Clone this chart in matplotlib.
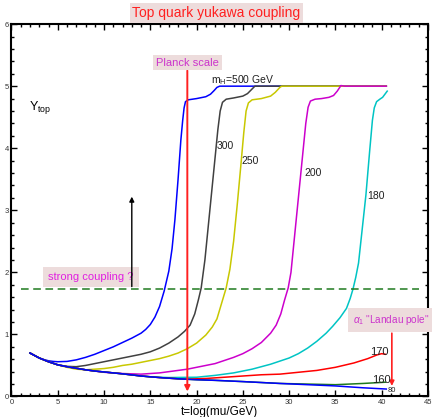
import numpy as np
import matplotlib
matplotlib.use("Agg")
import matplotlib.pyplot as plt
from matplotlib.ticker import MultipleLocator

plt.rcParams['font.family'] = ['Liberation Sans', 'DejaVu Sans']
plt.rcParams['mathtext.fontset'] = 'custom'
plt.rcParams['mathtext.rm'] = 'Liberation Sans'
plt.rcParams['mathtext.it'] = 'Liberation Sans:italic'

# common low-scale part of the light Higgs curves (t, Y_top)
t_base = [2, 2.5, 3, 3.5, 4, 5, 6, 7, 8, 9, 10, 12, 14, 16, 18, 20, 22, 25, 27, 29]
y_base = [0.70, 0.66, 0.62, 0.59, 0.56, 0.51, 0.48, 0.455, 0.43, 0.41, 0.395, 0.365,
          0.33, 0.305, 0.285, 0.27, 0.26, 0.24, 0.225, 0.21]

# m_H = 500 GeV
t_500 = [2, 2.5, 3, 3.5, 4, 4.5, 5, 6, 7, 8, 9, 10, 11, 12, 13, 14, 14.5, 15, 15.5,
         16, 16.5, 17.0, 17.35, 17.66, 18.0, 18.3, 18.5, 18.65, 18.8, 19.1, 20.0,
         21.0, 21.5, 21.9, 22.2, 22.5, 30, 40.5]
y_500 = [0.70, 0.66, 0.62, 0.595, 0.575, 0.565, 0.56, 0.565, 0.59, 0.63, 0.68, 0.74,
         0.80, 0.87, 0.94, 1.02, 1.08, 1.16, 1.28, 1.45, 1.70, 2.02, 2.38, 2.85, 3.50,
         4.13, 4.45, 4.65, 4.75, 4.78, 4.80, 4.83, 4.87, 4.93, 4.98, 5.0, 5.0, 5.0]
# m_H = 300 GeV
t_300 = [2, 2.5, 3, 3.5, 4, 5, 6, 7, 8, 9, 10, 11, 12, 13, 14, 15, 16, 17, 18, 18.7,
         19.3, 19.8, 20.2, 20.5, 20.9, 21.2, 21.6, 22.0, 22.3, 22.55, 22.8, 23.2, 24.0,
         25.0, 25.5, 25.9, 26.3, 40.5]
y_300 = [0.70, 0.66, 0.62, 0.59, 0.56, 0.51, 0.485, 0.48, 0.50, 0.53, 0.56, 0.59,
         0.62, 0.65, 0.68, 0.72, 0.78, 0.86, 0.96, 1.05, 1.15, 1.33, 1.56, 1.75, 2.20,
         2.65, 3.25, 3.85, 4.30, 4.60, 4.74, 4.79, 4.81, 4.84, 4.88, 4.94, 5.0, 5.0]
# m_H = 250 GeV
t_250 = [2, 2.5, 3, 3.5, 4, 5, 6, 7, 8, 9, 10, 11, 12, 13, 14, 15, 16, 17, 18, 19,
         20, 21, 21.7, 22.2, 22.7, 23.2, 23.6, 24.0, 24.4, 24.8, 25.1, 25.35, 25.6,
         26.0, 27.0, 28.0, 28.5, 29.0, 29.2, 40.5]
y_250 = [0.70, 0.66, 0.62, 0.59, 0.56, 0.51, 0.47, 0.44, 0.43, 0.44, 0.45, 0.47,
         0.50, 0.52, 0.55, 0.58, 0.61, 0.65, 0.70, 0.77, 0.86, 0.99, 1.12, 1.25, 1.50,
         1.75, 2.05, 2.50, 3.10, 3.75, 4.25, 4.60, 4.73, 4.78, 4.80, 4.84, 4.90, 4.98,
         5.0, 5.0]
# m_H = 200 GeV
t_200 = [2, 2.5, 3, 3.5, 4, 5, 6, 7, 8, 9, 10, 11, 12, 13, 14, 15, 16, 17, 18, 19,
         20, 21, 22, 23, 24, 25, 26, 27, 28, 28.6, 29.1, 29.5, 29.9, 30.2, 30.6, 31.0,
         31.4, 31.8, 32.05, 32.3, 32.8, 33.5, 34.3, 34.8, 35.2, 35.6, 36.0, 40.5]
y_200 = [0.70, 0.66, 0.62, 0.59, 0.56, 0.51, 0.48, 0.455, 0.43, 0.41, 0.39, 0.38,
         0.37, 0.365, 0.36, 0.37, 0.38, 0.40, 0.42, 0.44, 0.47, 0.50, 0.53, 0.58,
         0.63, 0.69, 0.77, 0.87, 1.02, 1.15, 1.33, 1.55, 1.75, 2.00, 2.60, 3.20, 3.80,
         4.40, 4.66, 4.76, 4.79, 4.80, 4.82, 4.85, 4.92, 5.01, 5.0, 5.0]
# m_H = 180 GeV
t_180 = [2, 2.5, 3, 3.5, 4, 5, 6, 7, 8, 9, 10, 12, 15, 17, 20, 22, 24, 26, 28, 30,
         31, 32, 33, 34, 34.7, 35.5, 36.2, 36.6, 36.9, 37.2, 37.5, 37.9, 38.3, 38.7,
         39.0, 39.2, 39.45, 39.8, 40.1, 40.35, 40.6]
y_180 = [0.70, 0.66, 0.62, 0.59, 0.56, 0.51, 0.48, 0.455, 0.43, 0.41, 0.395, 0.365,
         0.315, 0.305, 0.31, 0.34, 0.38, 0.44, 0.52, 0.62, 0.69, 0.78, 0.89, 1.02,
         1.13, 1.27, 1.42, 1.58, 1.73, 1.92, 2.15, 2.70, 3.25, 3.95, 4.45, 4.65, 4.75,
         4.79, 4.82, 4.87, 4.92]
# m_H = 170 GeV
t_170 = [2, 2.5, 3, 3.5, 4, 5, 6, 7, 8, 9, 10, 12, 14, 16, 18, 19, 21, 23, 25, 27,
         29, 31, 33, 35, 37, 38.5, 39.5, 40.0, 40.4]
y_170 = [0.70, 0.66, 0.62, 0.59, 0.56, 0.51, 0.48, 0.455, 0.43, 0.41, 0.395, 0.365,
         0.33, 0.305, 0.285, 0.28, 0.29, 0.31, 0.33, 0.35, 0.36, 0.39, 0.42, 0.47,
         0.54, 0.61, 0.67, 0.69, 0.68]
# m_H = 160 GeV
t_160 = t_base + [32, 35, 38, 40.4]
y_160 = y_base + [0.20, 0.19, 0.21, 0.23]
# m_H = 80 GeV
t_80 = t_base + [32, 35, 38, 40.5]
y_80 = y_base + [0.19, 0.17, 0.14, 0.12]

curves = [
    (t_500, y_500, '#0000ff'),
    (t_300, y_300, '#404040'),
    (t_250, y_250, '#c8c800'),
    (t_200, y_200, '#cc00cc'),
    (t_180, y_180, '#00c4c4'),
    (t_170, y_170, '#ff0000'),
    (t_160, y_160, '#1f7a1f'),
    (t_80, y_80, '#0000ff'),
]

planck_t = 19.0
strong_y = 1.73
landau_t = 41.1

fig = plt.figure(figsize=(4.32, 4.17), dpi=100)
ax = fig.add_axes([0.0266, 0.0492, 0.964, 0.893])

for t, y, c in curves:
    ax.plot(t, y, color=c, lw=1.1)

ax.hlines(strong_y, 1, 44, colors='#1f7a1f', linestyles=(0, (5, 3)), lw=1.1)

# Planck scale marker
ax.annotate('', xy=(planck_t, 0.08), xytext=(planck_t, 5.25),
            arrowprops=dict(arrowstyle='-|>', color='#ff2020', lw=1.4,
                            mutation_scale=8, shrinkA=0, shrinkB=0))
ax.text(planck_t, 5.38, 'Planck scale', color='#cc33cc', fontsize=8,
        ha='center', va='center',
        bbox=dict(boxstyle='square,pad=0.25', fc='#eddcdc', ec='none'))

# strong coupling region
ax.text(8.6, 1.93, 'strong coupling ?', color='#e020e0', fontsize=8,
        ha='center', va='center', zorder=3,
        bbox=dict(boxstyle='square,pad=0.45', fc='#eddcdc', ec='none'))
ax.annotate('', xy=(13, 3.22), xytext=(13, 1.77), zorder=4,
            arrowprops=dict(arrowstyle='-|>', color='black', lw=1.0,
                            mutation_scale=7, shrinkA=0, shrinkB=0))

# alpha_1 Landau pole
ax.text(41.0, 1.23, r'$\alpha_1$ "Landau pole"', color='#cc33cc', fontsize=7.2,
        ha='center', va='center', clip_on=False,
        bbox=dict(boxstyle='square,pad=0.5', fc='#eddcdc', ec='none'))
ax.annotate('', xy=(landau_t, 0.17), xytext=(landau_t, 1.02),
            arrowprops=dict(arrowstyle='-|>', color='#ff2020', lw=1.2,
                            mutation_scale=7, shrinkA=0, shrinkB=0))

# curve labels
ax.text(21.6, 5.1, r'm$_{\rm H}$=500 GeV', fontsize=7.5, color='#202020', va='center')
ax.text(22.15, 4.03, '300', fontsize=7.5, color='#202020', va='center')
ax.text(24.85, 3.79, '250', fontsize=7.5, color='#202020', va='center')
ax.text(31.7, 3.6, '200', fontsize=7.5, color='#202020', va='center')
ax.text(38.45, 3.23, '180', fontsize=7.5, color='#202020', va='center')
ax.text(38.7, 0.72, '170', fontsize=8, color='#202020', va='center')
ax.text(39.0, 0.26, '160', fontsize=8, color='#202020', va='center')
ax.text(40.6, 0.09, '80', fontsize=5.5, color='#202020', va='center')

ax.text(1.9, 4.65, r'Y$_{\rm top}$', fontsize=9, va='center')

ax.set_xlim(0, 45)
ax.set_ylim(0, 6)
ax.xaxis.set_major_locator(MultipleLocator(5))
ax.xaxis.set_minor_locator(MultipleLocator(1))
ax.yaxis.set_major_locator(MultipleLocator(1))
ax.yaxis.set_minor_locator(MultipleLocator(0.2))
ax.tick_params(which='both', direction='in', top=True, right=True,
               labelsize=5.5, labelcolor='#333333', pad=2, width=1)
ax.tick_params(which='major', length=4)
ax.tick_params(which='minor', length=2)
for s in ax.spines.values():
    s.set_linewidth(1.5)

ax.set_xlabel('t=log(mu/GeV)', fontsize=8.5, labelpad=0)
fig.text(0.501, 0.969, 'Top quark yukawa coupling', color='#ff2020', fontsize=10,
         ha='center', va='center',
         bbox=dict(boxstyle='square,pad=0.2', fc='#eddcdc', ec='none'))

fig.savefig('out.png', dpi=100)
